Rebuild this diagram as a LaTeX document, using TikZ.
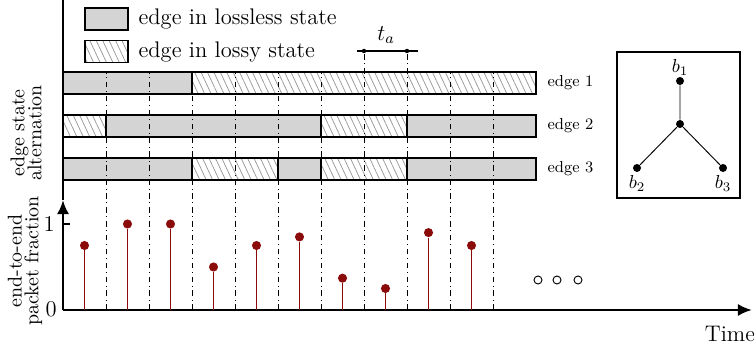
\documentclass[tikz,border=0pt]{standalone}
\usetikzlibrary{arrows.meta,patterns.meta}
\definecolor{lossless}{HTML}{D4D4D4}
\definecolor{hatch}{HTML}{999999}
\definecolor{stem}{HTML}{8B0A0A}
\begin{document}
\begin{tikzpicture}[x=0.187cm,y=0.187cm,
  ok/.style={fill=lossless,draw=black,line width=0.6pt},
  lossy/.style={pattern={Lines[angle=-65,distance=3.1pt,line width=0.4pt]},pattern color=hatch,draw=black,line width=0.6pt},
  slot/.style={dash dot,line width=0.45pt},
  axis/.style={-{Latex[length=7.5pt,width=6.5pt]},line width=1.4pt},
  dot/.style={circle,fill=stem,inner sep=0pt,minimum size=0.17cm},
  stemline/.style={stem,line width=0.7pt},
  vertex/.style={circle,fill=black,inner sep=0pt,minimum size=0.15cm},
  more/.style={circle,draw=black,line width=0.5pt,inner sep=0pt,minimum size=0.15cm},
  legbox/.style={minimum width=0.804cm,minimum height=0.411cm,inner sep=0pt},
  lbl/.style={font=\fontsize{8.5pt}{10pt}\selectfont,anchor=west},
  side/.style={rotate=90,align=center,font=\fontsize{10.6pt}{12pt}\selectfont}]
  \useasboundingbox (-6.3,-4.8) rectangle (69.1,31.0);

  % ===== legend =====
  \node[ok,legbox] (lg1) at (4.35,29.1) {};
  \node[lbl,font=\large] at (6.9,29.1) {edge in lossless state};
  \node[lossy,legbox] (lg2) at (4.35,25.85) {};
  \node[lbl,font=\large] at (6.9,25.85) {edge in lossy state};

  % ===== edge state bars (slot width 4.3) =====
  \foreach \a/\b/\s in {0/3/ok,3/11/lossy}
    \draw[\s] (4.3*\a,21.6) rectangle (4.3*\b,23.8);
  \foreach \a/\b/\s in {0/1/lossy,1/6/ok,6/8/lossy,8/11/ok}
    \draw[\s] (4.3*\a,17.3) rectangle (4.3*\b,19.5);
  \foreach \a/\b/\s in {0/3/ok,3/5/lossy,5/6/ok,6/8/lossy,8/11/ok}
    \draw[\s] (4.3*\a,13.0) rectangle (4.3*\b,15.2);
  \node[lbl] (e1) at (47.8,22.7) {edge 1};
  \node[lbl] (e2) at (47.8,18.4) {edge 2};
  \node[lbl] (e3) at (47.8,14.1) {edge 3};

  % slot boundaries
  \foreach \k/\t in {1/23.8,2/23.8,3/23.8,4/23.8,5/23.8,6/23.8,7/25.9,8/25.9,9/23.8,10/23.8}
    \draw[slot] (4.3*\k,0) -- (4.3*\k,\t);

  % t_a marker
  \coordinate (ta1) at (30.1,25.9);
  \coordinate (ta2) at (34.4,25.9);
  \draw[line width=0.6pt] (29.4,25.9) -- (35.5,25.9);
  \fill (ta1) circle (0.22) (ta2) circle (0.22);
  \node[font=\large] (ta) at (32.3,27.5) {$t_a$};

  % ===== axes =====
  \coordinate (O) at (0,0);
  \coordinate (ytop) at (0,11);
  \coordinate (xend) at (68.9,0);
  \draw[line width=0.6pt] (ytop) -- (0,31);
  \draw[axis] (O) -- (ytop);
  \draw[axis] (O) -- (xend);
  \draw[line width=0.6pt] (0,8.6) -- (0.7,8.6);
  \node[font=\large,anchor=east,inner sep=0pt] (one) at (-0.8,8.6) {1};
  \node[font=\large,anchor=east,inner sep=0pt] (zero) at (-0.6,0.1) {0};
  \node[font=\large] (time) at (66.7,-2.4) {Time};
  \node[side] (ylab1) at (-3.7,17.7) {edge state\\[-3pt]alternation};
  \node[side] (ylab2) at (-3.8,4.9) {end-to-end\\[-3pt]packet fraction};

  % ===== stems =====
  \foreach \v [count=\i from 0] in {0.75,1,1,0.5,0.75,0.85,0.37,0.25,0.9,0.75} {
    \node[dot] (p\i) at (2.15+4.3*\i,8.6*\v) {};
    \coordinate (s\i) at (2.15+4.3*\i,0);
    \draw[stemline] (s\i) -- (p\i);
  }
  \node[more] (m1) at (47.5,3.0) {};
  \node[more] (m2) at (49.4,3.0) {};
  \node[more] (m3) at (51.5,3.0) {};

  % ===== topology inset =====
  \draw[line width=0.6pt] (55.4,11.2) rectangle (67.7,25.8);
  \node[vertex,label={[label distance=-3pt]above:$b_1$}] (b1) at (61.7,22.9) {};
  \node[vertex] (c) at (61.7,18.6) {};
  \node[vertex,label={[label distance=-2pt]below:$b_2$}] (b2) at (57.4,14.2) {};
  \node[vertex,label={[label distance=-2pt]below:$b_3$}] (b3) at (66.0,14.2) {};
  \draw[line width=0.5pt] (b1) -- (c) (c) -- (b2) (c) -- (b3);
\end{tikzpicture}
\end{document}
